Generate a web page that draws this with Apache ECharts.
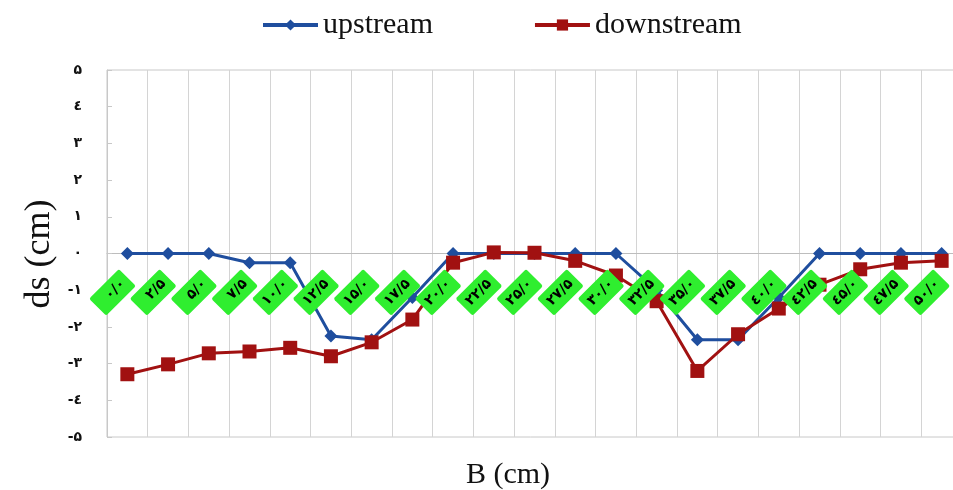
<!DOCTYPE html>
<html>
<head>
<meta charset="utf-8">
<script src="https://cdn.jsdelivr.net/npm/echarts@6/dist/echarts.min.js"></script>
<style>html,body{margin:0;padding:0;background:#fff}#c{width:953px;height:490px}</style>
</head>
<body>
<div id="c"></div>
<script>
var categories = ['۰/۰','۲/۵','۵/۰','۷/۵','۱۰/۰','۱۲/۵','۱۵/۰','۱۷/۵','۲۰/۰','۲۲/۵','۲۵/۰','۲۷/۵','۳۰/۰','۳۲/۵','۳۵/۰','۳۷/۵','٤۰/۰','٤۲/۵','٤۵/۰','٤۷/۵','۵۰/۰'];
var upstream = [0, 0, 0, -0.25, -0.25, -2.25, -2.35, -1.2, 0, 0, 0, 0, 0, -1.0, -2.35, -2.35, -1.2, 0, 0, 0, 0];
var downstream = [-3.29, -3.02, -2.72, -2.67, -2.57, -2.8, -2.42, -1.8, -0.25, 0.03, 0.02, -0.2, -0.6, -1.3, -3.2, -2.2, -1.5, -0.85, -0.43, -0.25, -0.2];
var yTickLabels = {'5':'۵','4':'٤','3':'۳','2':'۲','1':'۱','0':'۰','-1':'-۱','-2':'-۲','-3':'-۳','-4':'-٤','-5':'-۵'};

var chart = echarts.init(document.getElementById('c'));
var serif = '"Liberation Serif", "Times New Roman", serif';
chart.setOption({
  animation: false,
  backgroundColor: '#fff',
  legend: {
    left: 256, top: 5, itemWidth: 55, itemHeight: 14, itemGap: 100,
    lineStyle: {width: 4},
    textStyle: {fontFamily: serif, fontSize: 30, color: '#111'},
    data: ['upstream', 'downstream']
  },
  grid: {left: 107, top: 70, width: 855, height: 367, show: true, borderColor: '#c8c8c8', borderWidth: 1,
         outerBoundsMode: 'none', containLabel: false},
  xAxis: [{
    type: 'category', data: categories, boundaryGap: true, position: 'bottom', z: 10,
    offset: -183.5,
    axisLine: {show: false, onZero: false},
    axisTick: {show: false}, splitLine: {show: false},
    axisLabel: {
      show: true, interval: 0, rotate: 45, margin: 24,
      fontFamily: '"DejaVu Sans", sans-serif', fontWeight: 'bold', fontSize: 14, color: '#000',
      backgroundColor: '#2fee2f', padding: [5, 6], borderRadius: 2, width: 30
    }
  }, {
    type: 'category', data: categories, boundaryGap: true, position: 'bottom',
    axisLine: {show: true, onZero: true, onZeroAxisIndex: 0, lineStyle: {color: '#bdbdbd', width: 1}},
    axisTick: {show: false}, axisLabel: {show: false},
    splitLine: {show: true, lineStyle: {color: '#d4d4d4', width: 1}}
  }],
  yAxis: {
    type: 'value', min: -5, max: 5, interval: 1,
    axisLine: {show: true, lineStyle: {color: '#c8c8c8'}},
    axisTick: {show: true, inside: true, length: 5, lineStyle: {color: '#c8c8c8'}},
    splitLine: {show: false},
    axisLabel: {
      margin: 25, fontFamily: '"DejaVu Sans", sans-serif', fontWeight: 'bold', fontSize: 14, color: '#111',
      formatter: function (v) { return yTickLabels[String(v)]; }
    }
  },
  series: [{
    name: 'upstream', type: 'line', xAxisIndex: 0, data: upstream, z: 3,
    symbol: 'diamond', symbolSize: 13, lineStyle: {width: 3, color: '#1f4e9e'},
    itemStyle: {color: '#1f4e9e'}
  }, {
    name: 'downstream', type: 'line', xAxisIndex: 0, data: downstream, z: 3,
    symbol: 'rect', symbolSize: 14, lineStyle: {width: 3, color: '#a11111'},
    itemStyle: {color: '#a11111'}
  }],
  graphic: [{
    type: 'text', x: 40, y: 254, rotation: Math.PI / 2,
    style: {text: 'ds (cm)', font: '36px ' + serif, fill: '#111', align: 'center', verticalAlign: 'middle'}
  }, {
    type: 'text', x: 508, y: 475,
    style: {text: 'B (cm)', font: '30px ' + serif, fill: '#111', align: 'center', verticalAlign: 'middle'}
  }]
});
</script>
</body>
</html>
